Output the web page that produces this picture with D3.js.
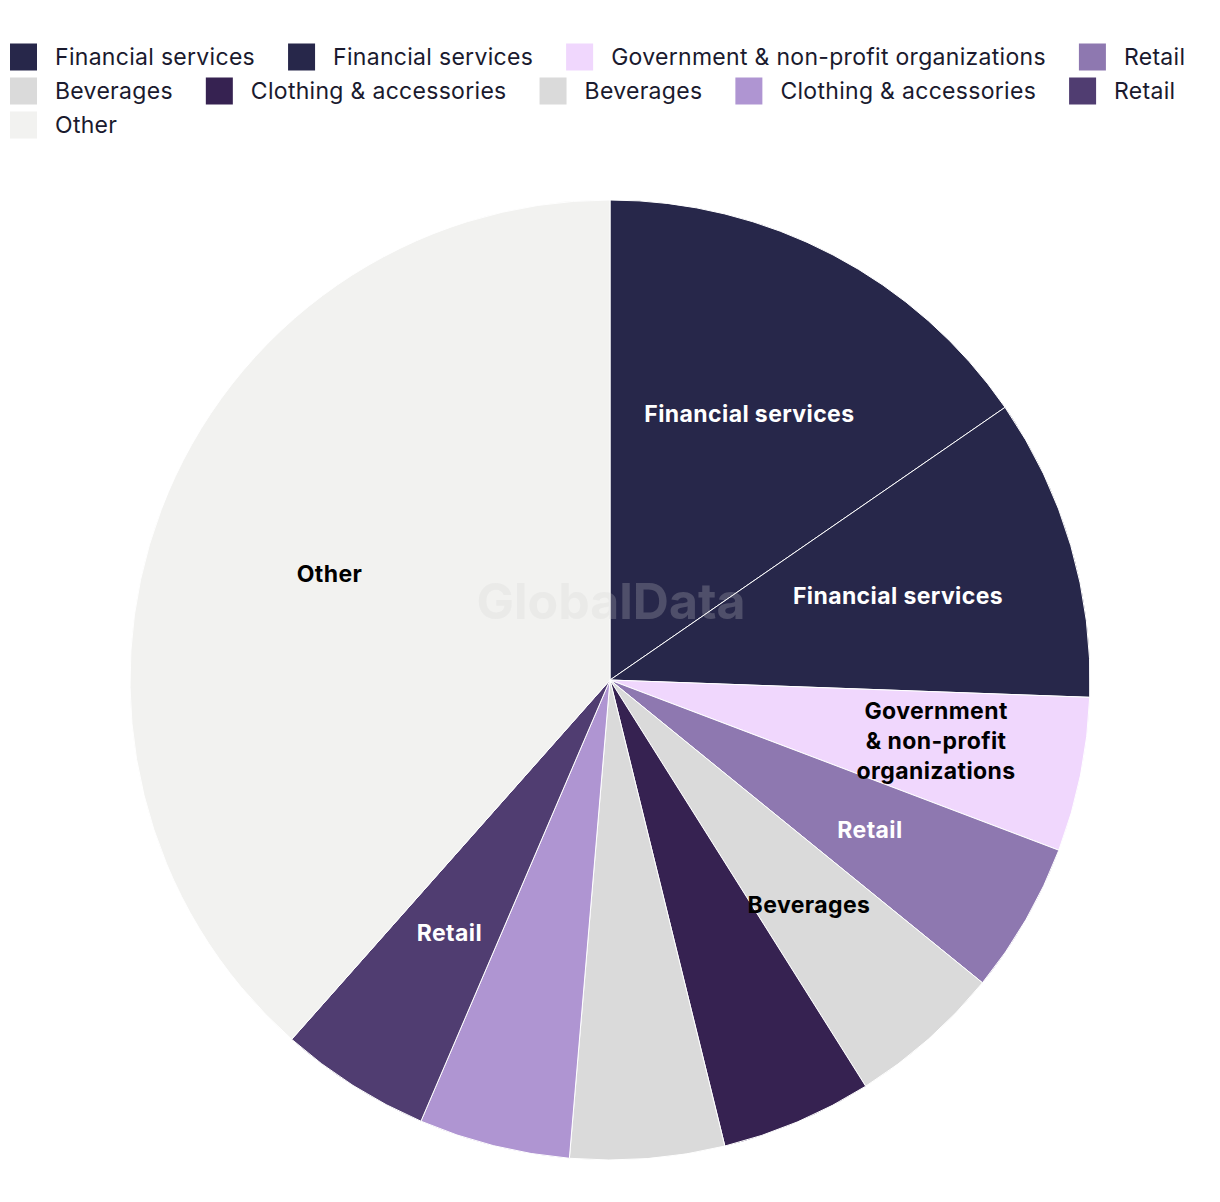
<!DOCTYPE html>
<html>
<head>
<meta charset="utf-8">
<script src="https://cdn.jsdelivr.net/npm/d3@7"></script>
<style>
  html, body { margin: 0; padding: 0; background: #ffffff; }
  svg { display: block; }
</style>
</head>
<body>
<svg id="chart" width="1220" height="1202"></svg>
<script>
const categories = ["Financial services", "Financial services", "Government & non-profit organizations", "Retail", "Beverages", "Clothing & accessories", "Beverages", "Clothing & accessories", "Retail", "Other"];
const values = [15.4, 10.2, 5.2, 5.1, 5.2, 5.1, 5.2, 5.1, 5.1, 38.5];
const colors = ["#27274a", "#27274a", "#f0d7fd", "#8e78b0", "#dadada", "#362251", "#dadada", "#af95d2", "#503d71", "#f2f2f0"];
const showLabel = [true, true, true, true, true, false, false, false, true, true];
const labelLines = [["Financial services"], ["Financial services"], ["Government", "& non-profit", "organizations"], ["Retail"], ["Beverages"], ["Clothing & accessories"], ["Beverages"], ["Clothing & accessories"], ["Retail"], ["Other"]];
const labelColors = ["#ffffff", "#ffffff", "#000000", "#ffffff", "#000000", "#ffffff", "#000000", "#000000", "#ffffff", "#000000"];

const FONT = "Inter, 'Liberation Sans', Arial, sans-serif";
const svg = d3.select("#chart");
const data = categories.map((c, i) => ({ cat: c, value: values[i], color: colors[i], idx: i }));

// ---------- Legend (flow layout) ----------
const legend = svg.append("g").attr("class", "legend");
const legX0 = 10, legMaxX = 1212, rowH = 34, legY0 = 57, sw = 27, gapSwText = 18, gapItem = 33;
let lx = legX0, ly = legY0;
data.forEach(d => {
  const g = legend.append("g");
  const t = g.append("text")
    .attr("x", sw + gapSwText)
    .attr("y", 0)
    .attr("dy", "0.35em")
    .attr("font-family", FONT)
    .attr("font-size", 23)
    .attr("letter-spacing", 0.3)
    .attr("fill", "#1a1a2e")
    .text(d.cat);
  const w = sw + gapSwText + t.node().getComputedTextLength();
  if (lx + w > legMaxX && lx > legX0) { lx = legX0; ly += rowH; }
  g.append("rect")
    .attr("x", 0).attr("y", -sw / 2)
    .attr("width", sw).attr("height", sw)
    .attr("fill", d.color);
  g.attr("transform", `translate(${lx},${ly})`);
  lx += w + gapItem;
});

// ---------- Pie ----------
const cx = 610, cy = 680, R = 480;
const pie = d3.pie().value(d => d.value).sort(null).startAngle(0).endAngle(2 * Math.PI);
const arcs = pie(data);
const arc = d3.arc().innerRadius(0).outerRadius(R);
const labelArc = d3.arc().innerRadius(300).outerRadius(300);

const gPie = svg.append("g").attr("transform", `translate(${cx},${cy})`);
gPie.selectAll("path.slice")
  .data(arcs)
  .join("path")
  .attr("class", "slice")
  .attr("d", arc)
  .attr("fill", d => d.data.color)
  .attr("stroke", "#ffffff")
  .attr("stroke-width", 1);

// watermark
svg.append("text")
  .attr("x", cx + 1)
  .attr("y", 601)
  .attr("dy", "0.35em")
  .attr("text-anchor", "middle")
  .attr("font-family", FONT)
  .attr("font-weight", 700)
  .attr("font-size", 50)
  .attr("fill", "#d0d0d0")
  .attr("fill-opacity", 0.24)
  .text("GlobalData");

// labels
const labelShift = { 2: [32, 2] };
const lh = 30;
const labels = gPie.selectAll("text.lbl")
  .data(arcs.filter(d => showLabel[d.data.idx]))
  .join("text")
  .attr("class", "lbl")
  .attr("transform", d => {
    const [x, y] = labelArc.centroid(d);
    const s = labelShift[d.data.idx] || [0, 0];
    return `translate(${x + s[0]},${y + s[1]})`;
  })
  .attr("text-anchor", "middle")
  .attr("font-family", FONT)
  .attr("font-weight", 700)
  .attr("font-size", 23)
  .attr("letter-spacing", 0.4)
  .attr("fill", d => labelColors[d.data.idx]);
labels.each(function(d) {
  const lines = labelLines[d.data.idx];
  const n = lines.length;
  d3.select(this).selectAll("tspan")
    .data(lines)
    .join("tspan")
    .attr("x", 0)
    .attr("y", (l, i) => (i - (n - 1) / 2) * lh)
    .attr("dy", "0.35em")
    .text(l => l);
});
</script>
</body>
</html>
